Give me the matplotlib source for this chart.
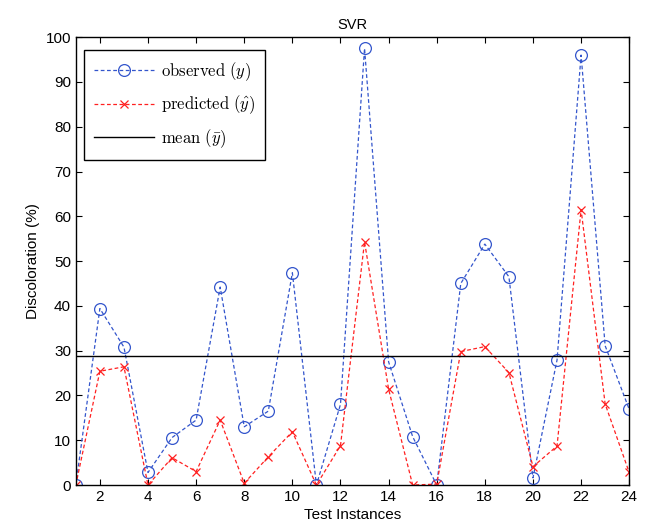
import numpy as np
import matplotlib
matplotlib.use("Agg")
import matplotlib.pyplot as plt

instances = np.arange(1, 25)
observed = [0, 39.4, 30.8, 2.8, 10.6, 14.5, 44.2, 13.0, 16.5, 47.4, 0, 18.0,
            97.5, 27.5, 10.8, 0, 45.0, 53.8, 46.5, 1.6, 27.9, 96.0, 31.1, 16.9]
predicted = [0, 25.4, 26.4, 0, 6.1, 3.0, 14.5, 0.4, 6.3, 11.9, 0, 8.8,
             54.3, 21.4, 0, 0.2, 29.8, 30.9, 25.1, 4.1, 8.7, 61.5, 18.1, 2.8]
mean_value = 28.8

plt.rcParams['font.family'] = ['Liberation Sans', 'DejaVu Sans']
plt.rcParams['mathtext.fontset'] = 'cm'

fig = plt.figure(figsize=(6.48, 5.31), dpi=100)
ax = fig.add_axes([0.117, 0.0866, 0.854, 0.8434])

ax.plot(instances, observed, color='#3355cc', linestyle=(0, (3, 2)), linewidth=0.9,
        marker='o', markersize=8.5, markerfacecolor='none', markeredgewidth=0.9,
        label=r'$\mathrm{observed}\ (y)$')
ax.plot(instances, predicted, color='#ff2020', linestyle=(0, (3, 2)), linewidth=0.9,
        marker='x', markersize=6, markeredgewidth=0.9,
        label=r'$\mathrm{predicted}\ (\hat{y})$')
ax.axhline(mean_value, color='black', linewidth=1.0, label=r'$\mathrm{mean}\ (\bar{y})$')

ax.set_xlim(1, 24)
ax.set_ylim(0, 100)
ax.set_xticks(np.arange(2, 25, 2))
ax.set_yticks(np.arange(0, 101, 10))
ax.tick_params(direction='in', top=True, right=True, labelsize=11, length=4)
for s in ax.spines.values():
    s.set_linewidth(1.0)

ax.set_title('SVR', fontsize=10.5)
ax.set_xlabel('Test Instances', fontsize=11, labelpad=3)
ax.set_ylabel('Discoloration (%)', fontsize=11)

leg = ax.legend(loc='upper left', fancybox=False, edgecolor='black', framealpha=1,
                fontsize=12, handlelength=3.6, handletextpad=0.4,
                labelspacing=0.65, borderpad=0.6, bbox_to_anchor=(0.0, 0.99))
leg.get_frame().set_linewidth(1.0)

fig.savefig('out.png', dpi=100)
